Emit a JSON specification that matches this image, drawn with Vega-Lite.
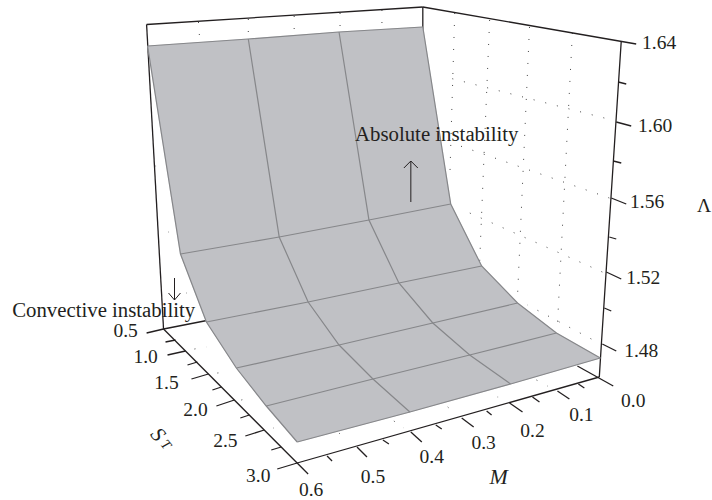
{"$schema":"https://vega.github.io/schema/vega-lite/v6.json","width":712,"height":500,"padding":0,"autosize":{"type":"fit","contains":"padding"},"background":"#ffffff","view":{"stroke":null},
"datasets":{
"dots":[
{"line":"mv1","ord":1,"u":456,"v":13},{"line":"mv1","ord":2,"u":451,"v":180},
{"line":"mv2","ord":1,"u":491,"v":20},{"line":"mv2","ord":2,"u":481,"v":262},
{"line":"mv3","ord":1,"u":531,"v":27},{"line":"mv3","ord":2,"u":519,"v":296},
{"line":"mv4","ord":1,"u":574,"v":33},{"line":"mv4","ord":2,"u":559,"v":325},
{"line":"l160","ord":1,"u":606,"v":118},{"line":"l160","ord":2,"u":443,"v":76},
{"line":"l156","ord":1,"u":611,"v":198},{"line":"l156","ord":2,"u":453,"v":143},
{"line":"l152","ord":1,"u":604,"v":272},{"line":"l152","ord":2,"u":462,"v":209},
{"line":"l148","ord":1,"u":593,"v":339},{"line":"l148","ord":2,"u":529,"v":305},
{"line":"b1","ord":1,"u":199,"v":22},{"line":"b1","ord":2,"u":200,"v":36},
{"line":"b2","ord":1,"u":249,"v":19},{"line":"b2","ord":2,"u":249,"v":33},
{"line":"b3","ord":1,"u":295,"v":16},{"line":"b3","ord":2,"u":295,"v":30},
{"line":"b4","ord":1,"u":341,"v":13},{"line":"b4","ord":2,"u":341,"v":27},
{"line":"b5","ord":1,"u":383,"v":10},{"line":"b5","ord":2,"u":383,"v":24},
{"line":"f1","ord":1,"u":195,"v":349},{"line":"f1","ord":2,"u":207,"v":347},
{"line":"f2","ord":1,"u":218,"v":373},{"line":"f2","ord":2,"u":230,"v":372},
{"line":"f3","ord":1,"u":242,"v":400},{"line":"f3","ord":2,"u":253,"v":397},
{"line":"f4","ord":1,"u":395,"v":421},{"line":"f4","ord":2,"u":405,"v":428},
{"line":"f5","ord":1,"u":449,"v":407},{"line":"f5","ord":2,"u":458,"v":415},
{"line":"f6","ord":1,"u":538,"v":380},{"line":"f6","ord":2,"u":549,"v":386},
{"line":"f7","ord":1,"u":340,"v":433},{"line":"f7","ord":2,"u":348,"v":441},
{"line":"s1","ord":1,"u":274,"v":428},{"line":"s1","ord":2,"u":274.5,"v":428},
{"line":"s2","ord":1,"u":499,"v":397},{"line":"s2","ord":2,"u":499.5,"v":397},
{"line":"s3","ord":1,"u":156,"v":166},{"line":"s3","ord":2,"u":156.5,"v":166},
{"line":"s4","ord":1,"u":169,"v":232},{"line":"s4","ord":2,"u":169.5,"v":232},
{"line":"s5","ord":1,"u":187,"v":293},{"line":"s5","ord":2,"u":187.5,"v":293}
],
"frame":[
{"line":"top1","ord":1,"u":147,"v":24.5},{"line":"top1","ord":2,"u":424,"v":7},
{"line":"top2","ord":1,"u":424,"v":7},{"line":"top2","ord":2,"u":638,"v":44},
{"line":"back","ord":1,"u":424,"v":7},{"line":"back","ord":2,"u":424,"v":30},
{"line":"left","ord":1,"u":147,"v":24.5},{"line":"left","ord":2,"u":164,"v":329},
{"line":"right","ord":1,"u":623,"v":41},{"line":"right","ord":2,"u":603,"v":345},{"line":"right","ord":3,"u":601,"v":377},
{"line":"floorL","ord":1,"u":147,"v":333},{"line":"floorL","ord":2,"u":164,"v":329},{"line":"floorL","ord":3,"u":210,"v":320},
{"line":"floorS","ord":1,"u":164,"v":329},{"line":"floorS","ord":2,"u":309,"v":474},
{"line":"floorM","ord":1,"u":278,"v":469},{"line":"floorM","ord":2,"u":298,"v":463},{"line":"floorM","ord":3,"u":601,"v":377},
{"line":"floorR","ord":1,"u":579,"v":366},{"line":"floorR","ord":2,"u":615,"v":386},
{"line":"L160","ord":1,"u":618,"v":122},{"line":"L160","ord":2,"u":633,"v":126},
{"line":"L156","ord":1,"u":613,"v":198},{"line":"L156","ord":2,"u":628,"v":204},
{"line":"L152","ord":1,"u":608,"v":272},{"line":"L152","ord":2,"u":623,"v":279},
{"line":"L148","ord":1,"u":604,"v":344},{"line":"L148","ord":2,"u":618,"v":351},
{"line":"l162","ord":1,"u":620,"v":82},{"line":"l162","ord":2,"u":628,"v":84},
{"line":"l158","ord":1,"u":615,"v":161},{"line":"l158","ord":2,"u":623,"v":163},
{"line":"l154","ord":1,"u":611,"v":237},{"line":"l154","ord":2,"u":618,"v":239},
{"line":"l150","ord":1,"u":606,"v":308},{"line":"l150","ord":2,"u":613,"v":311},
{"line":"S10","ord":1,"u":186,"v":351},{"line":"S10","ord":2,"u":168,"v":355},
{"line":"S15","ord":1,"u":209,"v":374},{"line":"S15","ord":2,"u":192,"v":379},
{"line":"S20","ord":1,"u":235,"v":400},{"line":"S20","ord":2,"u":217,"v":406},
{"line":"S25","ord":1,"u":265,"v":430},{"line":"S25","ord":2,"u":246,"v":436},
{"line":"s075","ord":1,"u":176,"v":340},{"line":"s075","ord":2,"u":166,"v":342},
{"line":"s125","ord":1,"u":198,"v":362},{"line":"s125","ord":2,"u":188,"v":365},
{"line":"s175","ord":1,"u":222,"v":387},{"line":"s175","ord":2,"u":213,"v":390},
{"line":"s225","ord":1,"u":250,"v":415},{"line":"s225","ord":2,"u":241,"v":418},
{"line":"s275","ord":1,"u":282,"v":447},{"line":"s275","ord":2,"u":272,"v":450},
{"line":"M01","ord":1,"u":559,"v":391},{"line":"M01","ord":2,"u":571,"v":399},
{"line":"M02","ord":1,"u":511,"v":403},{"line":"M02","ord":2,"u":524,"v":412},
{"line":"M03","ord":1,"u":463,"v":418},{"line":"M03","ord":2,"u":475,"v":427},
{"line":"M04","ord":1,"u":412,"v":432},{"line":"M04","ord":2,"u":423,"v":442},
{"line":"M05","ord":1,"u":358,"v":447},{"line":"M05","ord":2,"u":368,"v":457},
{"line":"m005","ord":1,"u":580,"v":384},{"line":"m005","ord":2,"u":586,"v":388},
{"line":"m015","ord":1,"u":534,"v":397},{"line":"m015","ord":2,"u":541,"v":402},
{"line":"m025","ord":1,"u":488,"v":411},{"line":"m025","ord":2,"u":493,"v":415},
{"line":"m035","ord":1,"u":437,"v":425},{"line":"m035","ord":2,"u":443,"v":429},
{"line":"m045","ord":1,"u":384,"v":440},{"line":"m045","ord":2,"u":390,"v":444},
{"line":"m055","ord":1,"u":328,"v":456},{"line":"m055","ord":2,"u":333,"v":461}
],
"outline":[
{"ord":1,"u":148,"v":46},{"ord":2,"u":249,"v":39},{"ord":3,"u":340,"v":32},{"ord":4,"u":424,"v":27},
{"ord":5,"u":452,"v":204},{"ord":6,"u":483,"v":266},{"ord":7,"u":519,"v":303},{"ord":8,"u":558,"v":333},{"ord":9,"u":602,"v":358},
{"ord":10,"u":512,"v":384},{"ord":11,"u":411,"v":412},{"ord":12,"u":298,"v":442},
{"ord":13,"u":267,"v":406},{"ord":14,"u":237,"v":368},{"ord":15,"u":207,"v":322},{"ord":16,"u":181,"v":254},{"ord":17,"u":148,"v":46}
],
"surface":[
{"line":"S0.5","ord":1,"M":0.6,"S_T":0.5,"Lambda":1.62,"u":148,"v":46},{"line":"S0.5","ord":2,"M":0.4,"S_T":0.5,"Lambda":1.62,"u":249,"v":39},{"line":"S0.5","ord":3,"M":0.2,"S_T":0.5,"Lambda":1.62,"u":340,"v":32},{"line":"S0.5","ord":4,"M":0.0,"S_T":0.5,"Lambda":1.62,"u":424,"v":27},
{"line":"S1.0","ord":1,"M":0.6,"S_T":1.0,"Lambda":1.53,"u":181,"v":254},{"line":"S1.0","ord":2,"M":0.4,"S_T":1.0,"Lambda":1.53,"u":280,"v":237},{"line":"S1.0","ord":3,"M":0.2,"S_T":1.0,"Lambda":1.53,"u":370,"v":220},{"line":"S1.0","ord":4,"M":0.0,"S_T":1.0,"Lambda":1.53,"u":452,"v":204},
{"line":"S1.5","ord":1,"M":0.6,"S_T":1.5,"Lambda":1.505,"u":207,"v":322},{"line":"S1.5","ord":2,"M":0.4,"S_T":1.5,"Lambda":1.505,"u":309,"v":302},{"line":"S1.5","ord":3,"M":0.2,"S_T":1.5,"Lambda":1.505,"u":400,"v":283},{"line":"S1.5","ord":4,"M":0.0,"S_T":1.5,"Lambda":1.505,"u":483,"v":266},
{"line":"S2.0","ord":1,"M":0.6,"S_T":2.0,"Lambda":1.49,"u":237,"v":368},{"line":"S2.0","ord":2,"M":0.4,"S_T":2.0,"Lambda":1.49,"u":340,"v":345},{"line":"S2.0","ord":3,"M":0.2,"S_T":2.0,"Lambda":1.49,"u":434,"v":323},{"line":"S2.0","ord":4,"M":0.0,"S_T":2.0,"Lambda":1.49,"u":519,"v":303},
{"line":"S2.5","ord":1,"M":0.6,"S_T":2.5,"Lambda":1.48,"u":267,"v":406},{"line":"S2.5","ord":2,"M":0.4,"S_T":2.5,"Lambda":1.48,"u":374,"v":379},{"line":"S2.5","ord":3,"M":0.2,"S_T":2.5,"Lambda":1.48,"u":471,"v":355},{"line":"S2.5","ord":4,"M":0.0,"S_T":2.5,"Lambda":1.48,"u":558,"v":333},
{"line":"S3.0","ord":1,"M":0.6,"S_T":3.0,"Lambda":1.475,"u":298,"v":442},{"line":"S3.0","ord":2,"M":0.4,"S_T":3.0,"Lambda":1.475,"u":411,"v":412},{"line":"S3.0","ord":3,"M":0.2,"S_T":3.0,"Lambda":1.475,"u":512,"v":384},{"line":"S3.0","ord":4,"M":0.0,"S_T":3.0,"Lambda":1.475,"u":602,"v":358},
{"line":"M0.6","ord":1,"M":0.6,"S_T":0.5,"Lambda":1.62,"u":148,"v":46},{"line":"M0.6","ord":2,"M":0.6,"S_T":1.0,"Lambda":1.53,"u":181,"v":254},{"line":"M0.6","ord":3,"M":0.6,"S_T":1.5,"Lambda":1.505,"u":207,"v":322},{"line":"M0.6","ord":4,"M":0.6,"S_T":2.0,"Lambda":1.49,"u":237,"v":368},{"line":"M0.6","ord":5,"M":0.6,"S_T":2.5,"Lambda":1.48,"u":267,"v":406},{"line":"M0.6","ord":6,"M":0.6,"S_T":3.0,"Lambda":1.475,"u":298,"v":442},
{"line":"M0.4","ord":1,"M":0.4,"S_T":0.5,"Lambda":1.62,"u":249,"v":39},{"line":"M0.4","ord":2,"M":0.4,"S_T":1.0,"Lambda":1.53,"u":280,"v":237},{"line":"M0.4","ord":3,"M":0.4,"S_T":1.5,"Lambda":1.505,"u":309,"v":302},{"line":"M0.4","ord":4,"M":0.4,"S_T":2.0,"Lambda":1.49,"u":340,"v":345},{"line":"M0.4","ord":5,"M":0.4,"S_T":2.5,"Lambda":1.48,"u":374,"v":379},{"line":"M0.4","ord":6,"M":0.4,"S_T":3.0,"Lambda":1.475,"u":411,"v":412},
{"line":"M0.2","ord":1,"M":0.2,"S_T":0.5,"Lambda":1.62,"u":340,"v":32},{"line":"M0.2","ord":2,"M":0.2,"S_T":1.0,"Lambda":1.53,"u":370,"v":220},{"line":"M0.2","ord":3,"M":0.2,"S_T":1.5,"Lambda":1.505,"u":400,"v":283},{"line":"M0.2","ord":4,"M":0.2,"S_T":2.0,"Lambda":1.49,"u":434,"v":323},{"line":"M0.2","ord":5,"M":0.2,"S_T":2.5,"Lambda":1.48,"u":471,"v":355},{"line":"M0.2","ord":6,"M":0.2,"S_T":3.0,"Lambda":1.475,"u":512,"v":384},
{"line":"M0.0","ord":1,"M":0.0,"S_T":0.5,"Lambda":1.62,"u":424,"v":27},{"line":"M0.0","ord":2,"M":0.0,"S_T":1.0,"Lambda":1.53,"u":452,"v":204},{"line":"M0.0","ord":3,"M":0.0,"S_T":1.5,"Lambda":1.505,"u":483,"v":266},{"line":"M0.0","ord":4,"M":0.0,"S_T":2.0,"Lambda":1.49,"u":519,"v":303},{"line":"M0.0","ord":5,"M":0.0,"S_T":2.5,"Lambda":1.48,"u":558,"v":333},{"line":"M0.0","ord":6,"M":0.0,"S_T":3.0,"Lambda":1.475,"u":602,"v":358}
],
"arrows":[
{"line":"up","ord":1,"u":412,"v":202},{"line":"up","ord":2,"u":412,"v":161},
{"line":"uph","ord":1,"u":405,"v":168},{"line":"uph","ord":2,"u":412,"v":161},{"line":"uph","ord":3,"u":419,"v":168},
{"line":"down","ord":1,"u":175,"v":278},{"line":"down","ord":2,"u":175,"v":300},
{"line":"downh","ord":1,"u":169,"v":293},{"line":"downh","ord":2,"u":175,"v":300},{"line":"downh","ord":3,"u":181,"v":293}
],
"labels":[
{"label":"1.64","u":661,"v":43},{"label":"1.60","u":657,"v":126},{"label":"1.56","u":649,"v":202},{"label":"1.52","u":645,"v":278},{"label":"1.48","u":643,"v":351},
{"label":"0.5","u":126,"v":331},{"label":"1.0","u":146,"v":357},{"label":"1.5","u":167,"v":383},{"label":"2.0","u":196,"v":410},{"label":"2.5","u":226,"v":441},{"label":"3.0","u":259,"v":476},
{"label":"0.6","u":312,"v":490},{"label":"0.5","u":374,"v":477},{"label":"0.4","u":433,"v":457},{"label":"0.3","u":485,"v":443},{"label":"0.2","u":534,"v":431},{"label":"0.1","u":583,"v":415},{"label":"0.0","u":635,"v":401},
{"label":"Λ","u":706,"v":206}
],
"notes":[
{"label":"Absolute instability","u":438,"v":135},{"label":"Convective instability","u":104,"v":311}
]
},
"encoding":{
"x":{"field":"u","type":"quantitative","scale":{"domain":[0,712]},"axis":null},
"y":{"field":"v","type":"quantitative","scale":{"domain":[500,0]},"axis":null}
},
"layer":[
{"data":{"name":"dots"},"mark":{"type":"line","stroke":"#444444","strokeWidth":1,"strokeDash":[1,11]},"encoding":{"detail":{"field":"line"},"order":{"field":"ord"}}},
{"data":{"name":"frame"},"mark":{"type":"line","stroke":"#231f20","strokeWidth":1.3},"encoding":{"detail":{"field":"line"},"order":{"field":"ord"}}},
{"data":{"name":"outline"},"mark":{"type":"line","fill":"#c0c1c5","stroke":"#c0c1c5","strokeWidth":0.5},"encoding":{"order":{"field":"ord"}}},
{"data":{"name":"surface"},"mark":{"type":"line","stroke":"#86878a","strokeWidth":1.2},"encoding":{"detail":{"field":"line"},"order":{"field":"ord"}}},
{"data":{"name":"arrows"},"mark":{"type":"line","stroke":"#231f20","strokeWidth":1},"encoding":{"detail":{"field":"line"},"order":{"field":"ord"}}},
{"data":{"name":"labels"},"mark":{"type":"text","font":"Liberation Serif","fontSize":19.5,"color":"#231f20","align":"center","baseline":"middle"},"encoding":{"text":{"field":"label"}}},
{"data":{"name":"notes"},"mark":{"type":"text","font":"Liberation Serif","fontSize":20.8,"color":"#231f20","align":"center","baseline":"middle"},"encoding":{"text":{"field":"label"}}},
{"data":{"values":[{"label":"M","u":500,"v":477}]},"mark":{"type":"text","font":"Liberation Serif","fontStyle":"italic","fontSize":22,"color":"#231f20","align":"center","baseline":"middle"},"encoding":{"text":{"field":"label"}}},
{"data":{"values":[{"label":"S","u":158,"v":435}]},"mark":{"type":"text","font":"Liberation Serif","fontStyle":"italic","fontSize":21,"angle":50,"color":"#231f20","align":"center","baseline":"middle"},"encoding":{"text":{"field":"label"}}},
{"data":{"values":[{"label":"T","u":166,"v":445}]},"mark":{"type":"text","font":"Liberation Serif","fontStyle":"italic","fontSize":14,"angle":50,"color":"#231f20","align":"center","baseline":"middle"},"encoding":{"text":{"field":"label"}}}
]}
